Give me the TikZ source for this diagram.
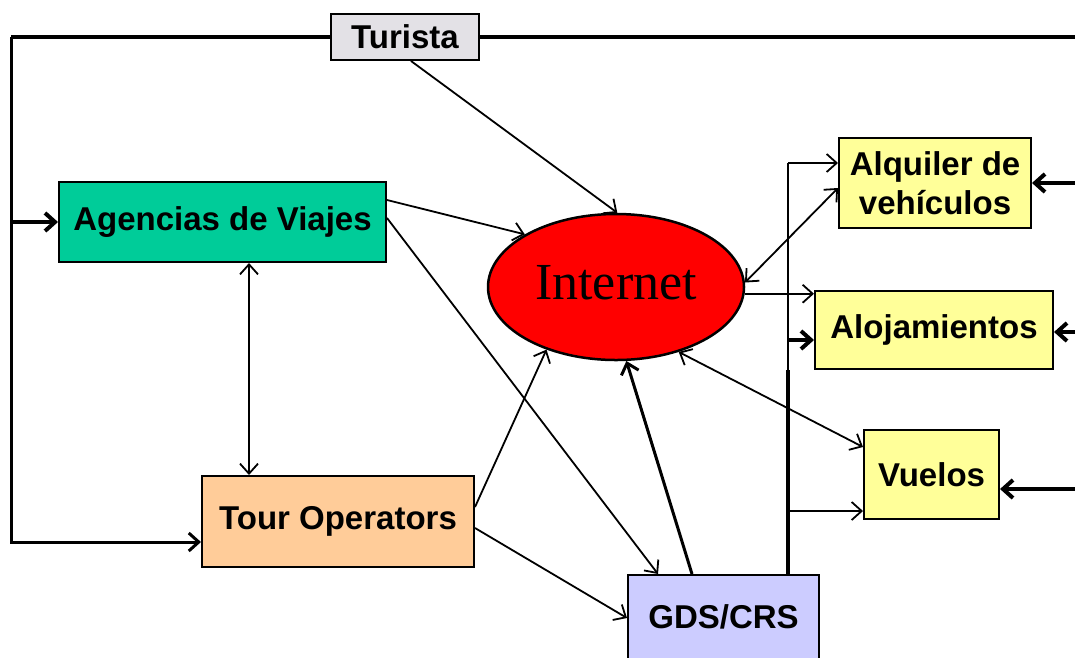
\documentclass[tikz,border=0pt]{standalone}
\usepackage{fontspec}
\setmainfont{Liberation Sans}
\newfontfamily\netfont{Liberation Serif}
\usetikzlibrary{arrows.meta,shapes.geometric}

\definecolor{turistagray}{RGB}{227,225,230}
\definecolor{agenciagreen}{RGB}{0,204,153}
\definecolor{tourorange}{RGB}{255,204,153}
\definecolor{gdsblue}{RGB}{204,204,255}
\definecolor{provyellow}{RGB}{255,255,153}

\begin{document}
\begin{tikzpicture}[x=1pt,y=-1pt,>={Straight Barb[length=10pt,width=18pt]},
                    thinline/.style={line width=1.8pt},
                    midline/.style={line width=3pt},
                    wide/.style={line width=4pt}]
  \tikzstyle{box}=[draw,line width=2pt,inner sep=0pt,align=center,
                   font=\fontsize{33}{39}\selectfont\bfseries]
  \useasboundingbox (0,0) rectangle (1075,657);
  \clip (0,0) rectangle (1075,657);

  \node[box, fill=turistagray, minimum width=148pt, minimum height=46pt] (turista) at (405,37) {Turista};
  \node[box, fill=agenciagreen, minimum width=327pt, minimum height=80pt] (agencias) at (222.5,222) {Agencias de Viajes};
  \node[box, fill=tourorange, minimum width=272pt, minimum height=91pt] (tour) at (338,521.5) {Tour Operators};
  \node[ellipse, draw, line width=2.5pt, fill=red, inner sep=0pt,
        minimum width=256pt, minimum height=146pt,
        font=\netfont\fontsize{52}{52}\selectfont] (internet) at (616,287)
        {\raisebox{9pt}{Internet}\hspace{20pt}};
  \node[box, fill=gdsblue, minimum width=191pt, minimum height=90pt] (gds) at (723.5,620) {\raisebox{6pt}{GDS/CRS}};
  \node[box, fill=provyellow, minimum width=192pt, minimum height=90pt] (alquiler) at (935,183) {Alquiler de\\veh\'iculos};
  \node[box, fill=provyellow, minimum width=238pt, minimum height=78pt] (aloj) at (934,330) {Alojamientos};
  \node[box, fill=provyellow, minimum width=135pt, minimum height=89pt] (vuelos) at (931.5,474.5) {Vuelos};

  % lazo del turista
  \coordinate (topleft) at (11,37);
  \coordinate (topright) at (1075,37);
  \draw[wide] (turista.west) -- (topleft);
  \draw[wide] (turista.east) -- (topright);
  \draw[midline,->] (topleft) |- ([yshift=-20.5pt]tour.west);
  \draw[wide,->] (topleft |- agencias.west) -- (agencias.west);

  % hacia internet y los GDS
  \draw[thinline,->] ([xshift=6pt]turista.south) -- (internet.89);
  \draw[thinline,->] ([yshift=22pt]agencias.east) -- (internet.150);
  \draw[thinline,->] ([yshift=4pt]agencias.east) -- ([xshift=-65.5pt]gds.north);
  \draw[thinline,<->] ([xshift=26.5pt]agencias.south) -- ([xshift=26.5pt]agencias.south |- tour.north);
  \draw[thinline,->] ([yshift=14.5pt]tour.east) -- (internet.222);
  \draw[thinline,->] ([yshift=-6.5pt]tour.east) -- ([yshift=2pt]gds.west);
  \draw[midline,->] ([xshift=-31.5pt]gds.north) -- (internet.278);
  \draw[thinline,<->] (internet.314) -- ([yshift=27.5pt]vuelos.west);
  \draw[thinline,<->] (internet.2) -- ([yshift=-5pt]alquiler.west);
  \draw[thinline,->] (internet.357) -- (internet.357 -| aloj.west);

  % bus de los GDS
  \coordinate (bustop) at (788,163);
  \coordinate (busmid) at (788,370);
  \coordinate (alojin) at ([yshift=-10pt]aloj.west);
  \coordinate (vuelosin) at ([yshift=-36.5pt]vuelos.west);
  \draw[thinline,->] (bustop) -- (bustop -| alquiler.west);
  \draw[thinline] (bustop) -- (busmid);
  \draw[wide] (busmid) -- (busmid |- gds.north);
  \draw[wide,->] (alojin -| bustop) -- (alojin);
  \draw[thinline,->] (vuelosin -| bustop) -- (vuelosin);

  % entradas por la derecha
  \coordinate (rightedge) at (1075,0);
  \coordinate (alojright) at ([yshift=-2pt]aloj.east);
  \coordinate (vuelosright) at ([yshift=-14.5pt]vuelos.east);
  \draw[wide,->] (alquiler.east -| rightedge) -- (alquiler.east);
  \draw[wide,->] (alojright -| rightedge) -- (alojright);
  \draw[wide,->] (vuelosright -| rightedge) -- (vuelosright);
\end{tikzpicture}
\end{document}
